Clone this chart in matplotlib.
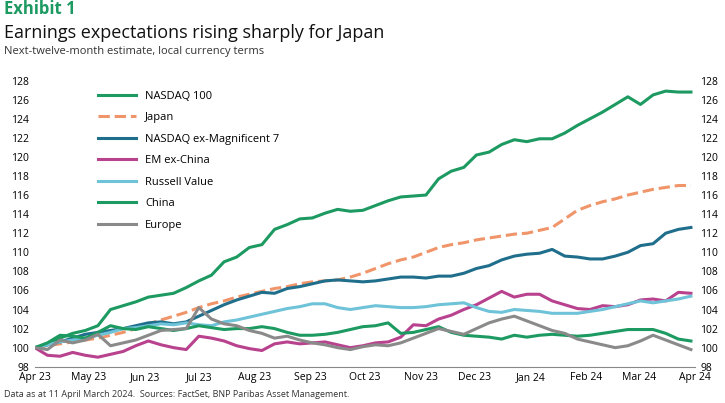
import numpy as np
import pandas as pd
import matplotlib
matplotlib.use("Agg")
import matplotlib.pyplot as plt
import matplotlib.dates as mdates

plt.rcParams['font.family'] = ['Open Sans', 'DejaVu Sans']

dates = pd.date_range("2023-04-01", periods=53, freq="7D")

nasdaq100 = [100.0,100.3,101.0,101.5,101.8,102.3,104.0,104.4,104.8,105.3,105.5,105.7,106.3,107.0,107.6,109.0,109.5,110.5,110.8,112.4,112.9,113.5,113.6,114.1,114.5,114.3,114.4,114.9,115.4,115.8,115.9,116.0,117.7,118.5,118.9,120.2,120.5,121.3,121.8,121.6,121.9,121.9,122.5,123.3,124.0,124.7,125.5,126.3,125.5,126.5,126.9,126.8,126.8]
japan = [100.0,100.2,100.4,100.6,100.8,101.0,101.3,101.6,102.0,102.5,102.9,103.3,103.7,104.2,104.6,104.9,105.3,105.6,105.9,106.2,106.4,106.7,106.9,107.0,107.1,107.4,107.8,108.3,108.8,109.2,109.5,110.0,110.5,110.8,111.0,111.3,111.5,111.7,111.9,112.0,112.3,112.6,113.5,114.4,114.9,115.3,115.6,116.0,116.3,116.6,116.8,117.0,117.0]
nasdaq_ex_mag7 = [100.0,100.3,100.6,101.0,101.4,101.6,101.8,102.0,102.3,102.6,102.7,102.5,102.7,103.3,103.9,104.5,105.0,105.4,105.8,105.7,106.2,106.4,106.7,107.0,107.1,107.0,106.9,107.0,107.2,107.4,107.4,107.3,107.5,107.5,107.8,108.3,108.6,109.2,109.6,109.8,109.9,110.3,109.6,109.5,109.3,109.3,109.6,110.0,110.7,110.9,112.0,112.4,112.6]
em_ex_china = [100.0,99.2,99.1,99.5,99.2,99.0,99.3,99.6,100.2,100.7,100.3,100.0,99.8,101.2,101.0,100.7,100.2,99.9,99.7,100.4,100.6,100.4,100.5,100.6,100.3,100.0,100.2,100.5,100.6,101.1,102.4,102.3,103.0,103.4,104.0,104.5,105.2,105.9,105.3,105.6,105.6,104.9,104.5,104.1,104.0,104.4,104.3,104.5,105.0,105.1,104.9,105.8,105.7]
russell_value = [100.0,100.3,100.6,100.8,101.0,101.3,101.6,102.0,102.1,102.3,102.5,102.4,102.6,102.4,102.3,102.7,102.9,103.2,103.5,103.8,104.1,104.3,104.6,104.6,104.2,104.0,104.2,104.4,104.3,104.2,104.2,104.3,104.5,104.6,104.7,104.2,103.8,103.7,104.0,103.9,103.8,103.6,103.6,103.6,103.8,104.0,104.3,104.6,104.9,104.7,104.9,105.1,105.4]
china = [100.0,100.5,101.3,101.2,101.0,101.6,102.3,102.0,101.9,102.2,102.0,101.8,102.0,102.3,102.1,101.9,102.0,102.0,102.2,102.0,101.6,101.3,101.3,101.4,101.6,101.9,102.2,102.3,102.6,101.5,101.6,101.9,102.2,101.6,101.3,101.2,101.1,100.9,101.3,101.1,101.3,101.4,101.3,101.2,101.3,101.5,101.7,101.9,101.9,101.9,101.5,100.9,100.7]
europe = [100.0,99.8,100.8,100.5,100.8,101.4,100.2,100.5,100.8,101.3,101.8,101.9,102.0,104.2,103.0,102.5,102.3,101.8,101.5,101.0,101.2,100.8,100.5,100.3,100.0,99.8,100.1,100.3,100.2,100.5,101.0,101.5,102.0,101.7,101.4,102.0,102.6,103.0,103.3,102.8,102.3,101.8,101.5,100.9,100.6,100.3,100.0,100.2,100.7,101.3,100.8,100.3,99.8]

series = [
    ("NASDAQ 100", nasdaq100, "#1d9a61", "-"),
    ("Japan", japan, "#f0956a", "--"),
    ("NASDAQ ex-Magnificent 7", nasdaq_ex_mag7, "#1f6e8c", "-"),
    ("EM ex-China", em_ex_china, "#b8428e", "-"),
    ("Russell Value", russell_value, "#6ec3d8", "-"),
    ("China", china, "#1d9a61", "-"),
    ("Europe", europe, "#8a8a8a", "-"),
]

fig = plt.figure(figsize=(7.25, 4.03), dpi=100)
ax = fig.add_axes([0.048, 0.09, 0.91, 0.71])

for name, vals, color, ls in series:
    ax.plot(dates[:len(vals)], vals, ls, color=color, lw=2.2, label=name)

ax.set_ylim(98, 128)
ax.set_yticks(range(98, 129, 2))
ax.set_xlim(pd.Timestamp("2023-04-01"), pd.Timestamp("2024-04-01"))
ax.xaxis.set_major_locator(mdates.MonthLocator())
ax.xaxis.set_major_formatter(mdates.DateFormatter("%b %y"))
ax.tick_params(labelsize=7.5, length=0, pad=4)
ax.tick_params(axis='y', labelright=True, right=False)
for s in ["top", "left", "right"]:
    ax.spines[s].set_visible(False)
ax.spines["bottom"].set_color("#888888")

leg = ax.legend(loc="upper left", bbox_to_anchor=(0.08, 1.0), frameon=False,
                fontsize=8, handlelength=3.5, labelspacing=0.95)

fig.text(0.006, 0.965, "Exhibit 1", fontsize=12, fontweight="bold", color="#1d9a61")
fig.text(0.006, 0.905, "Earnings expectations rising sharply for Japan", fontsize=13, color="#111111")
fig.text(0.006, 0.865, "Next-twelve-month estimate, local currency terms", fontsize=8, color="#333333")
fig.text(0.006, 0.015, "Data as at 11 April March 2024.  Sources: FactSet, BNP Paribas Asset Management.",
         fontsize=6.5, color="#333333")

fig.savefig("out.png", dpi=100)
